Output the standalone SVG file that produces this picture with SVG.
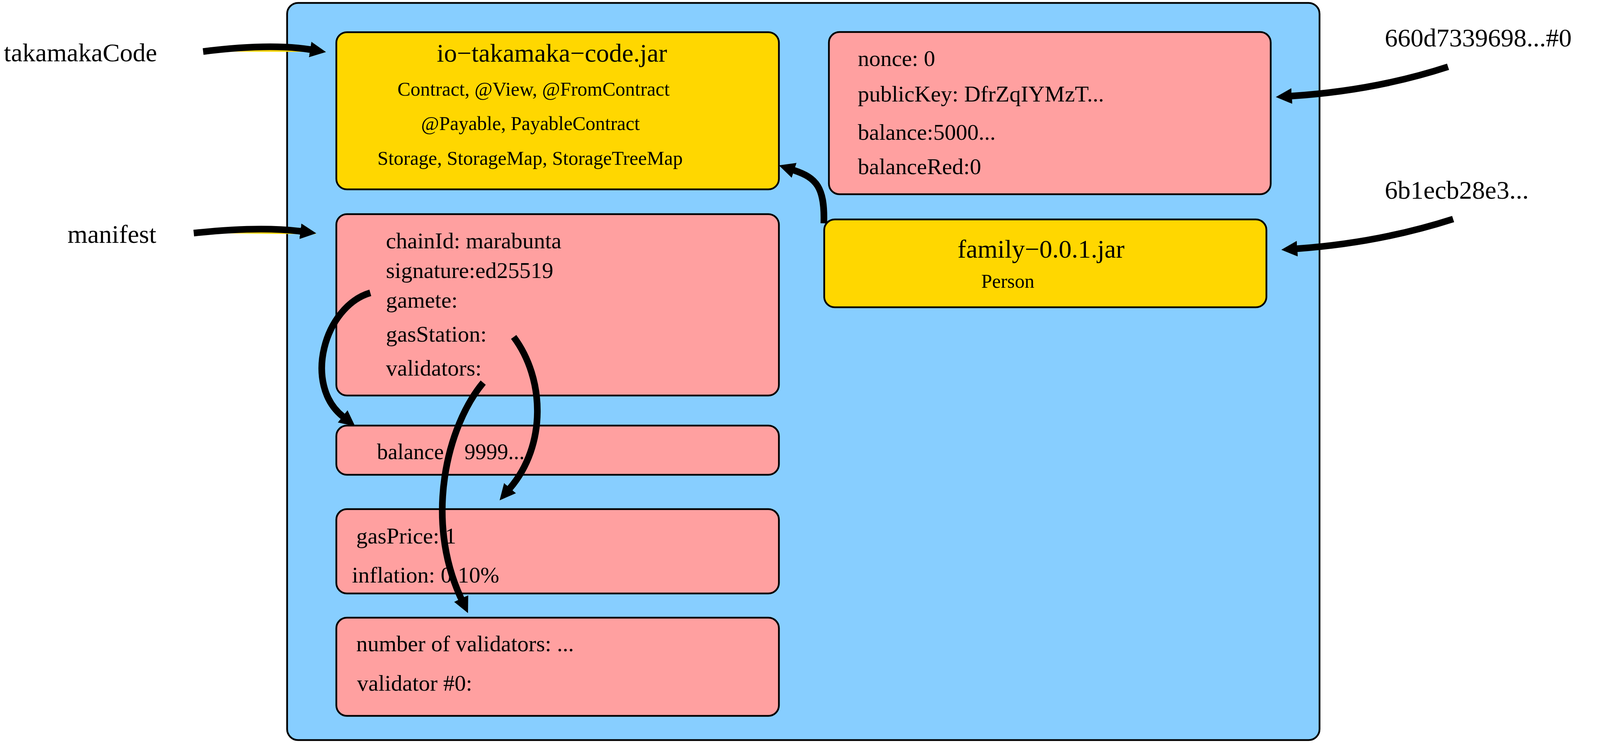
<svg xmlns="http://www.w3.org/2000/svg" width="4126" height="1903" viewBox="0 0 4126 1903">
<style>
.box{stroke:#000;stroke-width:4.5}
.store{fill:#87ceff}
.jar{fill:#ffd700}
.obj{fill:#ffa0a0}
text{font-family:"Liberation Serif","Times New Roman",serif;fill:#000}
.big{font-size:66px}
.mid{font-size:58px}
.sm{font-size:50px}
.bal{font-size:56px}
.arr{fill:none;stroke:#000;stroke-width:17;stroke-linecap:butt;marker-end:url(#ah)}
.sliver{fill:#ffd700;stroke:none}
</style>
<defs>
<marker id="ah" markerUnits="userSpaceOnUse" viewBox="0 -21 43 42" markerWidth="43" markerHeight="42" refX="1" refY="0" orient="auto">
<path d="M0,-20 L41,0 L0,20 Z" fill="#000"/>
</marker>
</defs>
<rect width="4126" height="1903" fill="#fff"/>

<g id="store">
<rect class="box store" x="735" y="7.5" width="2643" height="1888" rx="28"/>
</g>

<g id="takamakaCodeJar">
<rect class="box jar" x="861" y="82.5" width="1133" height="402.5" rx="27"/>
<text class="big" x="1413" y="158" text-anchor="middle">io−takamaka−code.jar</text>
<text class="sm" x="1366" y="245" text-anchor="middle">Contract, @View, @FromContract</text>
<text class="sm" x="1358" y="333" text-anchor="middle">@Payable, PayableContract</text>
<text class="sm" x="1357" y="422" text-anchor="middle">Storage, StorageMap, StorageTreeMap</text>
</g>

<g id="manifestObj">
<rect class="box obj" x="861" y="548.5" width="1133" height="464.5" rx="27"/>
<text class="mid" x="988" y="636">chainId: marabunta</text>
<text class="mid" x="988" y="712">signature:ed25519</text>
<text class="mid" x="988" y="788">gamete:</text>
<text class="mid" x="988" y="875">gasStation:</text>
<text class="mid" x="988" y="962">validators:</text>
</g>

<g id="gamete">
<rect class="box obj" x="861" y="1090" width="1133" height="126" rx="27"/>
<text class="bal" x="965" y="1176">balance</text>
<text class="bal" x="1189" y="1176">9999...</text>
</g>

<g id="gasStation">
<rect class="box obj" x="861" y="1304" width="1133" height="216" rx="27"/>
<text class="mid" x="912" y="1392">gasPrice: 1</text>
<text class="mid" x="901" y="1492">inflation: 0.10%</text>
</g>

<g id="validators">
<rect class="box obj" x="861" y="1582" width="1133" height="251.5" rx="27"/>
<text class="mid" x="912" y="1668">number of validators: ...</text>
<text class="mid" x="914" y="1769">validator #0:</text>
</g>

<g id="account">
<rect class="box obj" x="2122" y="82" width="1131" height="415.5" rx="27"/>
<text class="mid" x="2196" y="169">nonce: 0</text>
<text class="mid" x="2196" y="260">publicKey: DfrZqIYMzT...</text>
<text class="mid" x="2196" y="358">balance:5000...</text>
<text class="mid" x="2196" y="446">balanceRed:0</text>
</g>

<g id="familyJar">
<rect class="box jar" x="2110" y="562" width="1132" height="225" rx="27"/>
<text class="big" x="2665" y="660" text-anchor="middle">family−0.0.1.jar</text>
<text class="sm" x="2580" y="737" text-anchor="middle">Person</text>
</g>

<g id="labelTakamakaCode">
<text class="big" x="402" y="157" text-anchor="end">takamakaCode</text>
</g>
<g id="labelManifest">
<text class="big" x="400" y="622" text-anchor="end">manifest</text>
</g>
<g id="labelAccount">
<text class="big" x="3545" y="119">660d7339698...#0</text>
</g>
<g id="labelFamily">
<text class="big" x="3545" y="509">6b1ecb28e3...</text>
</g>

<g id="connectors">
<path class="sliver" d="M520,132 Q690,110.5 795,127 L836,133 Z"/>
<path class="arr" d="M520,132 Q690,110.5 795,127"/>
<path class="sliver" d="M496,597 Q665,579 770,592.5 L811,600 Z"/>
<path class="arr" d="M496,597 Q665,579 770,592.5"/>
<path class="arr" d="M3707,171 Q3520,232 3306,246"/>
<path class="arr" d="M3720,561 Q3530,622 3320,637"/>
<path class="arr" d="M2109,572 C2112,480 2090,455 2032,436"/>
<path class="arr" d="M948,750 C830,785 775,985 878,1067"/>
<path class="arr" d="M1315,863 C1395,970 1400,1140 1305,1251"/>
<path class="arr" d="M1237,980 C1145,1090 1085,1330 1181,1534"/>
</g>
</svg>
